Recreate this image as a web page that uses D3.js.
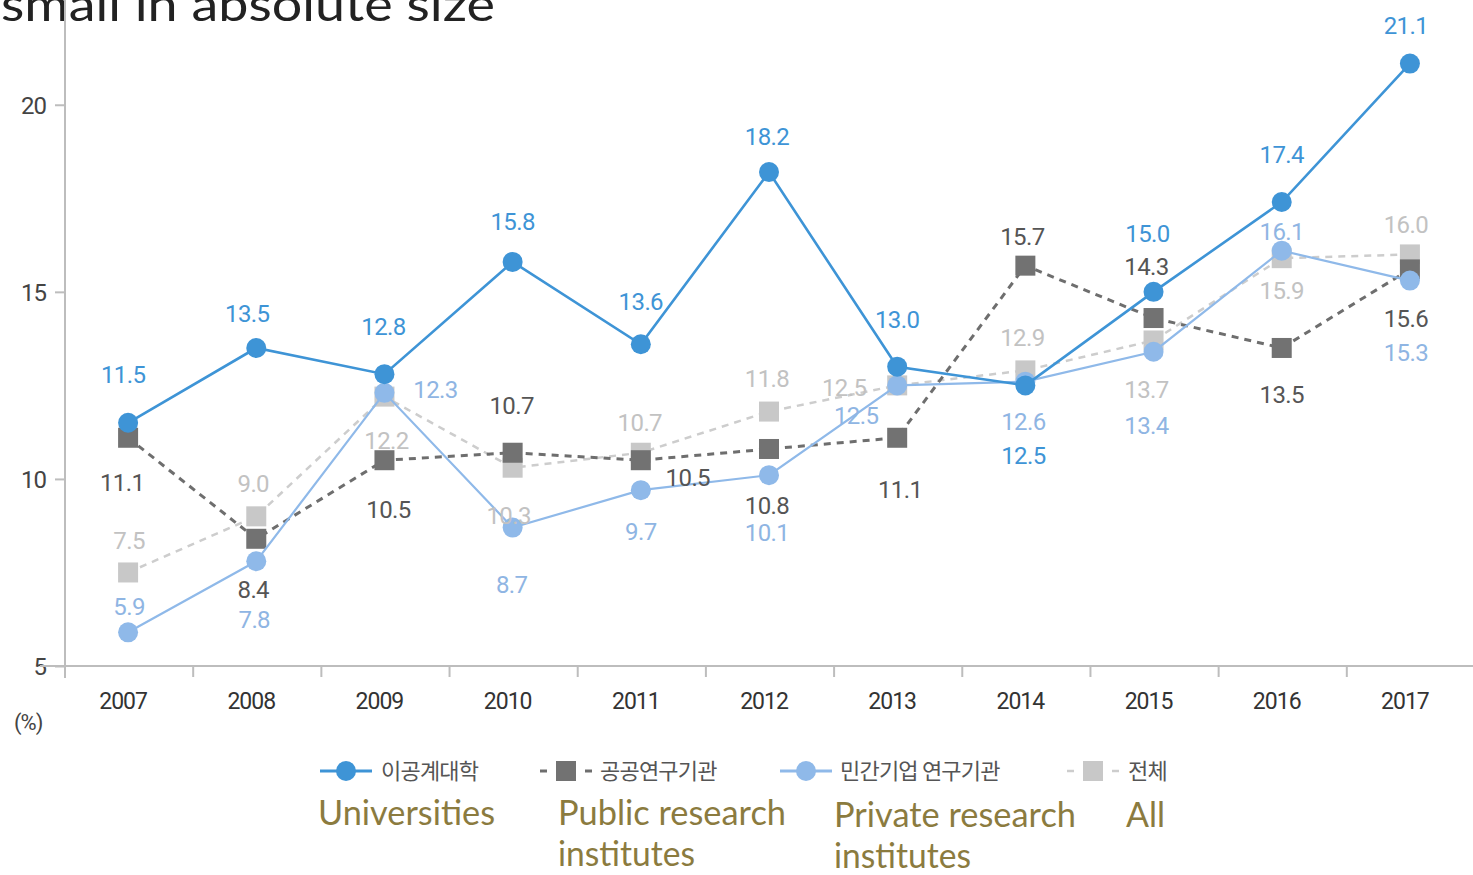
<!DOCTYPE html>
<html>
<head>
<meta charset="utf-8">
<script src="https://cdn.jsdelivr.net/npm/d3@7/dist/d3.min.js"></script>
<style>
  html, body { margin: 0; padding: 0; background: #fff; }
  svg { display: block; }
</style>
</head>
<body>
<svg id="chart" width="1473" height="875"></svg>
<script>
// ---- data ----
const years = ["2007", "2008", "2009", "2010", "2011", "2012", "2013", "2014", "2015", "2016", "2017"];
const universities = [11.5, 13.5, 12.8, 15.8, 13.6, 18.2, 13.0, 12.5, 15.0, 17.4, 21.1];
const publicInstitutes = [11.1, 8.4, 10.5, 10.7, 10.5, 10.8, 11.1, 15.7, 14.3, 13.5, 15.6];
const privateInstitutes = [5.9, 7.8, 12.3, 8.7, 9.7, 10.1, 12.5, 12.6, 13.4, 16.1, 15.3];
const allInstitutes = [7.5, 9.0, 12.2, 10.3, 10.7, 11.8, 12.5, 12.9, 13.7, 15.9, 16.0];
const yTicks = [5, 10, 15, 20];
const seriesNamesKo = ["이공계대학", "공공연구기관", "민간기업 연구기관", "전체"];
const seriesNamesEn = [["Universities"], ["Public research", "institutes"], ["Private research", "institutes"], ["All"]];
const titleText = "small in absolute size";

// ---- layout ----
const svg = d3.select("#chart");
const x = d3.scaleBand().domain(years).range([65, 1475]).padding(0);
const y = d3.scaleLinear().domain([5, 22.8]).range([666, 0]);
const cx = d => x(d) + x.bandwidth() / 2 - 1;

// label offsets (dx, dy) from each point, per series
const offUni = [[-5,-40],[-9,-26],[-1,-39],[0,-32],[0,-34],[-2,-27],[0,-39],[-2,79],[-6,-50],[0,-39],[-4,-30]];
const offPub = [[-6,53],[-3,59],[4,58],[-1,-39],[47,26],[-2,65],[3,60],[-3,-21],[-7,-43],[0,55],[-4,58]];
const offPri = [[1,-17],[-2,67],[51,5],[-1,65],[0,50],[-2,66],[-41,39],[-2,48],[-7,82],[0,-11],[-4,80]];
const offAll = [[1,-23],[-3,-24],[2,52],[-4,56],[-1,-22],[-2,-25],[-53,11],[-3,-24],[-7,58],[0,41],[-4,-21]];

const series = [
  { values: allInstitutes, stroke: "#cdcdcd", width: 2.5, dash: "7,6", marker: "square", fill: "#c8c8c8", label: "#c2c2c2", off: offAll },
  { values: publicInstitutes, stroke: "#6e6e6e", width: 3, dash: "7,6", marker: "square", fill: "#727272", label: "#555555", off: offPub },
  { values: privateInstitutes, stroke: "#8fb9e9", width: 2.2, dash: null, marker: "circle", fill: "#8fb9e9", label: "#8fb5e3", off: offPri },
  { values: universities, stroke: "#3e94d6", width: 2.6, dash: null, marker: "circle", fill: "#3e94d6", label: "#3e94d6", off: offUni }
];

// title (top, partly clipped by the frame)
svg.append("text")
  .attr("x", 1).attr("y", 21)
  .attr("font-family", "Lato, 'Open Sans', sans-serif")
  .attr("font-size", 46)
  .attr("fill", "#222")
  .attr("textLength", 494)
  .attr("lengthAdjust", "spacingAndGlyphs")
  .text(titleText);

// axes
const axisColor = "#bdbdbd";
const yAxis = svg.append("g")
  .attr("transform", "translate(65,0)")
  .call(d3.axisLeft(y).tickValues(yTicks).tickSize(10).tickPadding(9).tickSizeOuter(0));
yAxis.select(".domain").attr("stroke", axisColor).attr("stroke-width", 2)
  .attr("d", "M0,0V678");
yAxis.selectAll(".tick line").attr("stroke", axisColor).attr("stroke-width", 2);
yAxis.selectAll(".tick text")
  .attr("font-family", "Roboto, sans-serif").attr("font-size", 24).attr("fill", "#444")
  .attr("letter-spacing", "-1")
  .attr("dy", "0.36em");

const xAxis = svg.append("g")
  .attr("transform", "translate(0,666)")
  .call(d3.axisBottom(x).tickSize(0).tickPadding(0));
xAxis.select(".domain").attr("stroke", axisColor).attr("stroke-width", 2)
  .attr("d", "M40,0H1475");
xAxis.selectAll(".tick text")
  .attr("font-family", "Roboto, sans-serif").attr("font-size", 23).attr("fill", "#333")
  .attr("letter-spacing", "-1")
  .attr("x", -6).attr("y", 27);
// category separators below the axis
xAxis.selectAll(".sep")
  .data(years)
  .join("line")
  .attr("class", "sep")
  .attr("x1", d => x(d)).attr("x2", d => x(d))
  .attr("y1", 0).attr("y2", 11)
  .attr("stroke", axisColor).attr("stroke-width", 2);

svg.append("text")
  .attr("x", 14).attr("y", 730)
  .attr("font-family", "Roboto, sans-serif").attr("font-size", 22).attr("fill", "#444")
  .attr("letter-spacing", "-1")
  .text("(%)");

// lines and markers
const line = d3.line().x((d, i) => cx(years[i])).y(d => y(d));
const msize = 20;
series.forEach(s => {
  const g = svg.append("g");
  g.append("path")
    .datum(s.values)
    .attr("d", line)
    .attr("fill", "none")
    .attr("stroke", s.stroke)
    .attr("stroke-width", s.width)
    .attr("stroke-dasharray", s.dash);
  if (s.marker === "circle") {
    g.selectAll("circle").data(s.values).join("circle")
      .attr("cx", (d, i) => cx(years[i]))
      .attr("cy", d => y(d))
      .attr("r", 10)
      .attr("fill", s.fill);
  } else {
    g.selectAll("rect").data(s.values).join("rect")
      .attr("x", (d, i) => cx(years[i]) - msize / 2)
      .attr("y", d => y(d) - msize / 2)
      .attr("width", msize).attr("height", msize)
      .attr("fill", s.fill);
  }
});

// value labels
series.forEach(s => {
  svg.append("g").selectAll("text").data(s.values).join("text")
    .attr("x", (d, i) => cx(years[i]) + s.off[i][0])
    .attr("y", (d, i) => y(d) + s.off[i][1])
    .attr("text-anchor", "middle")
    .attr("font-family", "Roboto, sans-serif")
    .attr("font-size", 24)
    .attr("letter-spacing", "-0.6")
    .attr("fill", s.label)
    .text(d => d.toFixed(1));
});

// legend
const legendItems = [
  { s: series[3], x0: 320, tx: 381 },
  { s: series[1], x0: 540, tx: 600 },
  { s: series[2], x0: 780, tx: 840 },
  { s: series[0], x0: 1067, tx: 1128 }
];
const legY = 771;
const legend = svg.append("g");
legendItems.forEach((it, k) => {
  const s = it.s;
  const c = it.x0 + 26;
  if (s.dash) {
    legend.append("line").attr("x1", it.x0).attr("x2", it.x0 + 7).attr("y1", legY).attr("y2", legY)
      .attr("stroke", s.stroke).attr("stroke-width", s.width);
    legend.append("line").attr("x1", it.x0 + 45).attr("x2", it.x0 + 52).attr("y1", legY).attr("y2", legY)
      .attr("stroke", s.stroke).attr("stroke-width", s.width);
    legend.append("rect").attr("x", c - 10).attr("y", legY - 10).attr("width", 20).attr("height", 20)
      .attr("fill", s.fill);
  } else {
    legend.append("line").attr("x1", it.x0).attr("x2", it.x0 + 52).attr("y1", legY).attr("y2", legY)
      .attr("stroke", s.stroke).attr("stroke-width", 3);
    legend.append("circle").attr("cx", c).attr("cy", legY).attr("r", 10).attr("fill", s.fill);
  }
  legend.append("text")
    .attr("x", it.tx).attr("y", legY + 8)
    .attr("font-family", "'Noto Sans CJK KR', sans-serif")
    .attr("font-size", 22)
    .attr("letter-spacing", "-0.8")
    .attr("fill", "#555")
    .text(seriesNamesKo[k]);
});

// English names under the legend
const enPos = [
  { x: 318, y: 825, w: [177] },
  { x: 558, y: 825, w: [228, 137] },
  { x: 834, y: 827, w: [242, 137] },
  { x: 1126, y: 827, w: [39] }
];
seriesNamesEn.forEach((lines, k) => {
  lines.forEach((t, j) => {
    svg.append("text")
      .attr("x", enPos[k].x)
      .attr("y", enPos[k].y + j * 41)
      .attr("font-family", "Lato, 'Open Sans', sans-serif")
      .attr("font-size", 34)
      .attr("fill", "#8b7b3f")
      .attr("textLength", enPos[k].w[j])
      .attr("lengthAdjust", "spacingAndGlyphs")
      .text(t);
  });
});
</script>
</body>
</html>
